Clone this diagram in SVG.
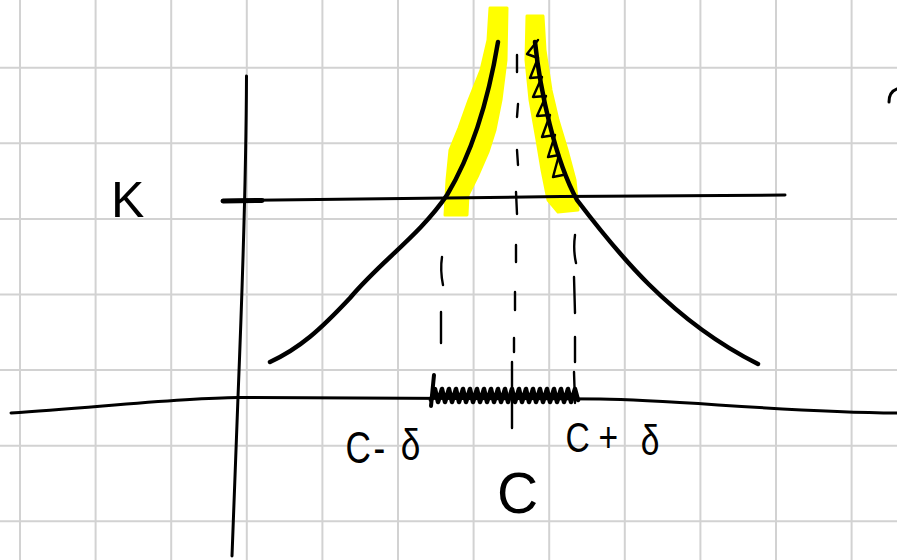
<svg xmlns="http://www.w3.org/2000/svg" width="897" height="560" viewBox="0 0 897 560">
<style>
.grid line{stroke:#d2d2d2;stroke-width:2}
.ink{fill:none;stroke:#000;stroke-linecap:round;stroke-linejoin:round}
.thick{stroke-width:4.5}
.mid{stroke-width:3}
.thin{stroke-width:2.4}
.hl{fill:#ffff00;stroke:#ffff00;stroke-width:3;stroke-linejoin:round}
.lbl{font-family:"Liberation Sans","DejaVu Sans",sans-serif;fill:#000}
</style>
<rect width="897" height="560" fill="#fff"/>
<g id="grid" class="grid">
<line x1="20" y1="0" x2="20" y2="560"/>
<line x1="95.6" y1="0" x2="95.6" y2="560"/>
<line x1="171.2" y1="0" x2="171.2" y2="560"/>
<line x1="246.8" y1="0" x2="246.8" y2="560"/>
<line x1="322.4" y1="0" x2="322.4" y2="560"/>
<line x1="398" y1="0" x2="398" y2="560"/>
<line x1="473.6" y1="0" x2="473.6" y2="560"/>
<line x1="549.2" y1="0" x2="549.2" y2="560"/>
<line x1="624.8" y1="0" x2="624.8" y2="560"/>
<line x1="700.4" y1="0" x2="700.4" y2="560"/>
<line x1="776" y1="0" x2="776" y2="560"/>
<line x1="851.6" y1="0" x2="851.6" y2="560"/>
<line x1="0" y1="67.7" x2="897" y2="67.7"/>
<line x1="0" y1="143.3" x2="897" y2="143.3"/>
<line x1="0" y1="218.9" x2="897" y2="218.9"/>
<line x1="0" y1="294.5" x2="897" y2="294.5"/>
<line x1="0" y1="370.1" x2="897" y2="370.1"/>
<line x1="0" y1="445.7" x2="897" y2="445.7"/>
<line x1="0" y1="521.3" x2="897" y2="521.3"/>
</g>
<g id="highlights">
<polygon class="hl" points="490,8 488,40 481,70 469,100 459,128 450,150 447,180 445,215 467,215 468,195 478,175 488,152 495,130 501,100 506,60 507,8"/>
<polygon class="hl" points="527,16 526,60 530,100 537,140 542,170 548,200 558,212 578,210 575,180 567,150 558,120 551,90 545,50 543,16"/>
</g>
<g id="axes">
<path class="ink mid" d="M11,413 C100,407 180,398 238,397.5 L600,399 C680,400 780,412 897,413"/>
<path class="ink mid" d="M246.5,76 Q246,200 238,397 L232,556"/>
<path class="ink mid" d="M223,200.5 C400,198 600,196 785,195"/>
<path class="ink" stroke-width="5" d="M223,201 L262,200.5"/>
</g>
<g id="curves">
<path class="ink thick" d="M270,362 C300,348 320,330 350,298 C380,262 420,235 447,195 C465,165 485,120 498,42"/>
<path class="ink thick" d="M535,42 C540,90 555,160 577,200 C615,250 670,320 758,364"/>
<path class="ink thin" d="M538,40 L527,54 L538,58 L530,78 L542,77 L533,97 L546,96 L537,116 L550,115 L542,137 L555,135 L548,157 L559,155 L553,177 L563,175"/>
</g>
<g id="dashes" class="ink thin">
<path d="M517,55 L517,72 M518,104 L517,117 M517,150 L518,165 M516,192 L517,214 M516,245 L516,262 M515,292 L515,310 M514,338 L514,352 M512,362 L512,428"/>
<path d="M442,257 Q440,270 443,285 M441,312 L441,343"/>
<path d="M575,235 Q573,250 576,263 M574,277 L575,313 M575,337 L575,362 M574,372 L575,403"/>
</g>
<g id="scribble">
<path class="ink" stroke-width="4.5" d="M431,400 l4,-11 l3,13 l4,-13 l3,13 l4,-13 l3,13 l4,-13 l3,13 l4,-13 l3,13 l4,-13 l3,13 l4,-13 l3,13 l4,-13 l3,13 l4,-13 l3,13 l4,-13 l3,13 l4,-13 l3,13 l4,-13 l3,13 l4,-13 l3,13 l4,-13 l3,13 l4,-13 l3,13 l4,-13 l3,13 l4,-13 l3,13 l4,-13 l3,13 l4,-13 l3,13 l4,-13 l3,13 l4,-13 l3,11"/>
<path class="ink" stroke-width="4" d="M434,375 L431,406"/>
<path class="ink mid" d="M889,102 Q889,92 897,89"/>
</g>
<g id="labels">
<text class="lbl" x="111" y="217" font-size="50">K</text>
<text class="lbl" font-size="44" transform="scale(0.8,1)"><tspan x="432" y="463">C</tspan><tspan x="467" y="463">-</tspan><tspan x="501" y="460">δ</tspan></text>
<text class="lbl" font-size="42" transform="scale(0.8,1)"><tspan x="707" y="452">C</tspan><tspan x="748" y="452">+</tspan><tspan x="801" y="455">δ</tspan></text>
<text class="lbl" x="497" y="513" font-size="57">C</text>
</g>
</svg>
